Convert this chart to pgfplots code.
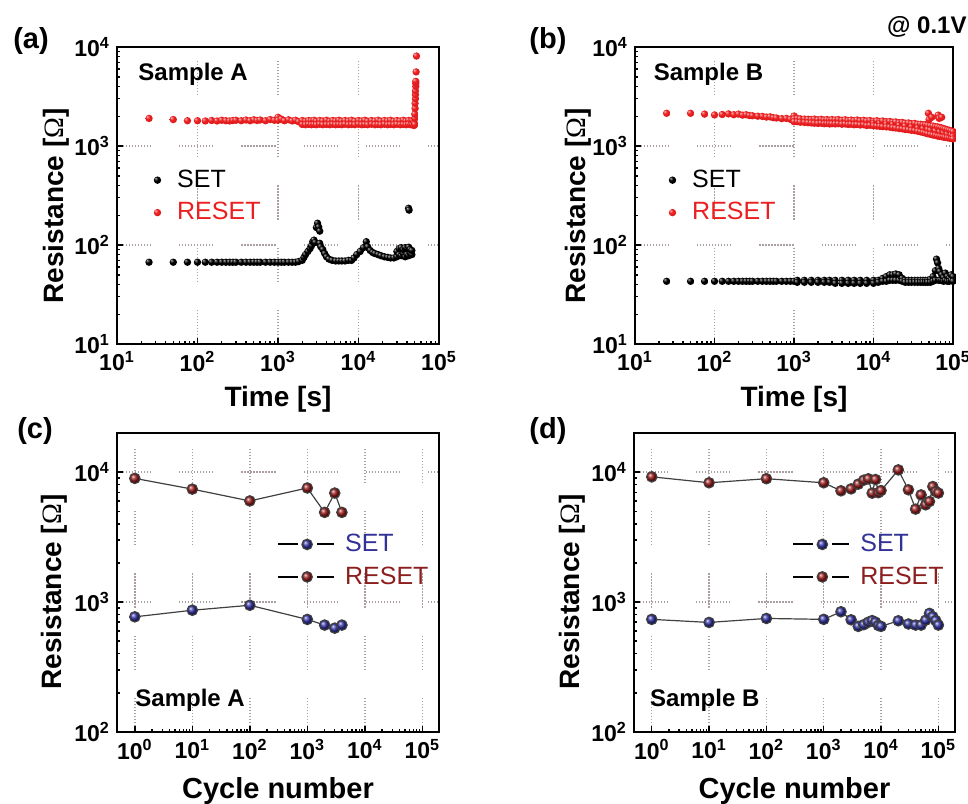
\documentclass[border=0pt]{standalone}
\usepackage{fontspec}
\setmainfont{Liberation Sans}
\newfontfamily\omegafont{Liberation Serif}
\usepackage{pgfplots}
\pgfplotsset{compat=1.18}

\definecolor{resetred}{RGB}{235,30,32}
\definecolor{setblue}{RGB}{45,45,160}
\definecolor{resetdark}{RGB}{150,22,22}
\definecolor{setbluetxt}{RGB}{50,50,150}
\definecolor{resetdarktxt}{RGB}{140,30,30}
\definecolor{gridc}{RGB}{170,158,158}

% small glossy sphere for the dense time series
\makeatletter
\pgfdeclareradialshading[tikz@ball]{sphere}{\pgfqpoint{-14bp}{14bp}}{%
  color(0bp)=(tikz@ball!25!white);
  color(6bp)=(tikz@ball!65!white);
  color(14bp)=(tikz@ball);
  color(36bp)=(tikz@ball!90!black);
  color(50bp)=(tikz@ball!72!black)}
\makeatother
\pgfdeclareplotmark{sphere}{%
  \pgfpathcircle{\pgfpointorigin}{\pgfplotmarksize}%
  \pgfshadepath{sphere}{0}%
  \pgfusepath{}}

\tikzset{gridpat/.style={dash pattern=on 0.6pt off 0.9pt on 0.6pt off 0.9pt on 0.6pt off 0.9pt on 0.6pt off 0.9pt on 0.6pt off 0.9pt on 0.6pt off 0.9pt on 0.6pt off 0.9pt on 0.6pt off 0.9pt on 0.6pt off 0.9pt on 0.6pt off 0.9pt on 0.6pt off 0.9pt on 0.6pt off 14pt}}

\pgfplotsset{
  every axis/.append style={
    scale only axis,
    anchor=north west,
    axis line style={line width=1pt},
    tick align=inside,
    xtick pos=bottom, ytick pos=left,
    major tick length=3pt, minor tick length=1.6pt,
    every tick/.style={black, line width=0.7pt},
    grid=major,
    major grid style={gridc, line width=0.7pt, gridpat},
    tick label style={font=\bfseries\fontsize{11.5}{11.5}\selectfont},
    label style={font=\bfseries\fontsize{14}{14}\selectfont},
    legend style={draw=none, fill=none, inner sep=0pt,
      font=\fontsize{12.5}{14}\selectfont, anchor=west,
      nodes={inner sep=1pt}, column sep=7pt, row sep=4pt},
    legend cell align=left,
  },
}

\begin{document}
\begin{tikzpicture}
\useasboundingbox (0,0) rectangle (484pt,-401.5pt);

% ---------------- (a) ----------------
\begin{axis}[at={(58.5pt,-23.5pt)}, width=161pt, height=148.5pt,
  xmode=log, ymode=log,
  xmin=10, xmax=1e5, ymin=10, ymax=1e4,
  xtick={10,100,1000,10000,100000},
  xticklabels={10\textsuperscript{1},10\textsuperscript{2},10\textsuperscript{3},10\textsuperscript{4},10\textsuperscript{5}},
  ytick={10,100,1000,10000},
  yticklabels={10\textsuperscript{1},10\textsuperscript{2},10\textsuperscript{3},10\textsuperscript{4}},
  xlabel={Time [s]},
  xlabel style={at={(rel axis cs:0.5,-0.212)}, anchor=base},
  ylabel={Resistance [{\omegafont\mdseries Ω}]},
  ylabel style={at={(rel axis cs:-0.19,0.465)}, anchor=center},
  legend image code/.code={\draw[only marks] plot coordinates {(0pt,0pt)};},
  legend style={at={(rel axis cs:0.113,0.497)}}]
\addplot[only marks, mark=sphere, mark size=1.85pt, mark options={ball color=black}] coordinates {
(25,67) (50,67) (75,67) (100,67) (125,67) (150,67) (175,67) (200,67) (225,67) (250,67)
(275,67) (300,67) (350,67) (400,67) (450,67) (500,67) (550,67) (600,67) (700,67) (800,67)
(900,67) (1000,67) (1100,67) (1200,67) (1350,67) (1500,67) (1650,67) (1800,68) (2000,70) (2100,75)
(2200,80) (2350,86) (2500,92) (2600,98) (2700,108) (2800,112) (2900,106) (3000,150) (3100,166) (3200,152)
(3300,138) (3300,104) (3400,96) (3600,90) (3800,82) (4000,76) (4300,72) (4700,70) (5200,69) (5700,69)
(6200,69) (6800,69) (7500,70) (8200,70) (8800,74) (9500,80) (10500,86) (11500,94) (12500,108) (13000,96)
(14000,88) (15000,84) (16000,82) (17500,80) (19000,78) (21000,76) (23000,75) (25000,74) (27500,74) (30000,76)
(30000,86) (32000,80) (32000,92) (34000,78) (34000,94) (36000,82) (36000,90) (38000,76) (38000,94) (40000,80)
(40000,92) (42000,78) (42000,95) (44000,82) (44000,90) (46000,80) (46000,88) (41900,235) (42500,225)
};
\addlegendentry{SET}
\addplot[only marks, mark=sphere, mark size=1.85pt, mark options={ball color=resetred}] coordinates {
(25,1900) (50,1850) (75,1800) (100,1800) (125,1790) (150,1810) (175,1790) (200,1820) (225,1800) (250,1790)
(275,1810) (300,1820) (350,1800) (400,1830) (450,1800) (500,1840) (550,1810) (600,1830) (700,1800) (800,1850)
(900,1820) (1000,1950) (1000,1820) (1100,1870) (1200,1800) (1350,1840) (1500,1790) (1650,1820) (1800,1760)
(2000,1810) (2000,1650) (2200,1780) (2200,1640) (2400,1810) (2400,1660) (2600,1790) (2600,1640)
(2800,1820) (2800,1650) (3000,1780) (3000,1640) (3300,1810) (3300,1660) (3600,1790) (3600,1640)
(4000,1820) (4000,1650) (4400,1780) (4400,1640) (4800,1810) (4800,1660) (5200,1790) (5200,1640)
(5700,1820) (5700,1650) (6200,1780) (6200,1640) (6800,1810) (6800,1660) (7500,1790) (7500,1640)
(8200,1820) (8200,1650) (9000,1780) (9000,1640) (10000,1810) (10000,1660) (11000,1790) (11000,1640)
(12000,1820) (12000,1650) (13000,1780) (13000,1640) (14500,1810) (14500,1660) (16000,1790) (16000,1640)
(17500,1820) (17500,1650) (19000,1780) (19000,1640) (21000,1810) (21000,1660) (23000,1790) (23000,1640)
(25000,1820) (25000,1650) (27500,1780) (27500,1640) (30000,1810) (30000,1660) (33000,1790) (33000,1640)
(36000,1820) (36000,1650) (39000,1780) (39000,1640) (42000,1810) (42000,1660) (45000,1790) (45000,1640)
(47000,1800) (47000,1640) (49000,1740) (49000,1610) (50000,1650) (50000,1900) (50000,2100) (50500,2400)
(50500,2700) (51000,3000) (51000,3300) (51000,3600) (51500,4000) (51500,4300) (51500,4500) (52000,5600) (52500,8100)
};
\addlegendentry{\textcolor{resetred}{RESET}}
\end{axis}

% ---------------- (b) ----------------
\begin{axis}[at={(317.5pt,-23.5pt)}, width=159pt, height=148.5pt,
  xmode=log, ymode=log,
  xmin=10, xmax=1e5, ymin=10, ymax=1e4,
  xtick={10,100,1000,10000,100000},
  xticklabels={10\textsuperscript{1},10\textsuperscript{2},10\textsuperscript{3},10\textsuperscript{4},10\textsuperscript{5}},
  ytick={10,100,1000,10000},
  yticklabels={10\textsuperscript{1},10\textsuperscript{2},10\textsuperscript{3},10\textsuperscript{4}},
  xlabel={Time [s]},
  xlabel style={at={(rel axis cs:0.5,-0.212)}, anchor=base},
  ylabel={Resistance [{\omegafont\mdseries Ω}]},
  ylabel style={at={(rel axis cs:-0.18,0.465)}, anchor=center},
  legend image code/.code={\draw[only marks] plot coordinates {(0pt,0pt)};},
  legend style={at={(rel axis cs:0.105,0.497)}}]
\addplot[only marks, mark=sphere, mark size=1.85pt, mark options={ball color=black}] coordinates {
(25,43) (50,43) (75,43) (100,43) (125,43) (150,43) (175,43) (200,43) (225,43) (250,43)
(275,43) (300,43) (350,43) (400,43) (450,43) (500,43) (550,43) (600,43) (700,43) (800,43)
(900,43) (1000,43) (1100,44) (1100,42) (1350,44) (1350,42) (1650,44) (1650,42) (2000,44) (2000,42)
(2400,44) (2400,42) (2800,44) (2800,42) (3300,44) (3300,41) (4000,44) (4000,41) (4800,44) (4800,41)
(5700,44) (5700,41) (6800,44) (6800,41) (8200,44) (8200,41) (10000,44) (10000,41) (11500,44) (11500,42)
(13000,46) (13000,43) (14500,48) (14500,43) (16000,50) (16000,44) (17500,50) (17500,44) (19000,51) (19000,44)
(21000,50) (21000,44) (23000,46) (23000,43) (25000,44) (25000,42) (27500,44) (27500,42) (30000,44) (30000,42)
(33000,44) (33000,42) (36000,44) (36000,42) (39000,44) (39000,42) (42000,44) (42000,42) (45000,44) (45000,42)
(48000,44) (48000,42) (52000,45) (52000,42) (56000,48) (56000,43) (60000,55) (60000,44) (62000,72) (64000,66)
(66000,58) (66000,44) (68000,54) (68000,44) (72000,50) (72000,44) (76000,47) (76000,43) (80000,52) (80000,44)
(85000,48) (85000,43) (90000,46) (90000,43) (95000,50) (95000,44) (100000,48) (100000,43)
};
\addlegendentry{SET}
\addplot[only marks, mark=sphere, mark size=1.85pt, mark options={ball color=resetred}] coordinates {
(25,2140) (50,2140) (75,2100) (100,2060) (125,2080) (150,2110) (175,2070) (200,2100) (225,2050) (250,2070)
(275,2030) (300,2020) (350,2000) (400,1990) (450,1960) (500,1970) (550,1930) (600,1920) (700,1890) (800,1900)
(900,1860) (1000,2010) (1000,1880) (1000,1760) (1100,1900) (1100,1760) (1200,1880) (1200,1740)
(1350,1870) (1350,1730) (1500,1860) (1500,1720) (1650,1850) (1650,1710) (1800,1870) (1800,1700)
(2000,1840) (2000,1690) (2200,1860) (2200,1700) (2400,1830) (2400,1680) (2600,1850) (2600,1690)
(2800,1820) (2800,1670) (3000,1850) (3000,1680) (3300,1830) (3300,1670) (3600,1850) (3600,1680)
(4000,1820) (4000,1660) (4400,1840) (4400,1670) (4800,1810) (4800,1650) (5200,1830) (5200,1660)
(5700,1810) (5700,1640) (6200,1830) (6200,1650) (6800,1800) (6800,1630) (7500,1820) (7500,1640)
(8200,1790) (8200,1610) (9000,1810) (9000,1620) (10000,1780) (10000,1700) (10000,1600) (11000,1800)
(11000,1590) (12000,1770) (12000,1690) (12000,1580) (13000,1790) (13000,1570) (14500,1760) (14500,1670)
(14500,1560) (16000,1770) (16000,1550) (17500,1740) (17500,1650) (17500,1530) (19000,1750) (19000,1520)
(21000,1720) (21000,1620) (21000,1500) (23000,1730) (23000,1490) (25000,1700) (25000,1590) (25000,1470)
(27500,1710) (27500,1460) (30000,1680) (30000,1560) (30000,1440) (33000,1690) (33000,1430)
(36000,1660) (36000,1530) (36000,1410) (39000,1660) (39000,1390) (42000,1640) (42000,1500) (42000,1370)
(45000,1640) (45000,1350) (48000,1620) (48000,1470) (48000,1330) (49000,2140) (50000,1850)
(52000,1600) (52000,1440) (52000,1310) (54000,1950) (56000,1590) (56000,1290) (60000,1570) (60000,1420)
(60000,1280) (64000,1560) (64000,1260) (65000,2050) (67000,1900) (68000,1540) (68000,1390) (68000,1250)
(72000,1950) (72000,1520) (72000,1240) (76000,1500) (76000,1360) (76000,1230) (80000,1480) (80000,1220)
(85000,1460) (85000,1320) (85000,1210) (90000,1440) (90000,1200) (95000,1420) (95000,1290) (95000,1190)
(100000,1400) (100000,1250) (100000,1180)
};
\addlegendentry{\textcolor{resetred}{RESET}}
\end{axis}

% ---------------- (c) ----------------
\begin{axis}[at={(58.5pt,-216.5pt)}, width=161pt, height=149.5pt,
  xmode=log, ymode=log,
  xmin=0.49, xmax=1.95e5, ymin=100, ymax=2e4,
  xtick={1,10,100,1000,10000,100000},
  xticklabels={10\textsuperscript{0},10\textsuperscript{1},10\textsuperscript{2},10\textsuperscript{3},10\textsuperscript{4},10\textsuperscript{5}},
  ytick={100,1000,10000},
  yticklabels={10\textsuperscript{2},10\textsuperscript{3},10\textsuperscript{4}},
  xlabel={Cycle number},
  xlabel style={at={(rel axis cs:0.5,-0.221)}, anchor=base, font=\bfseries\fontsize{14.5}{14.5}\selectfont},
  ylabel={Resistance [{\omegafont\mdseries Ω}]},
  ylabel style={at={(rel axis cs:-0.196,0.468)}, anchor=center},
  legend style={at={(rel axis cs:0.496,0.573)}, column sep=4pt},
  legend image code/.code={
    \draw[black,line width=1pt] (0pt,0pt) -- (10pt,0pt);
    \draw[black,line width=1pt] (19.5pt,0pt) -- (28pt,0pt);
    \draw[only marks] plot coordinates {(14.5pt,0pt)};
  }]
\addplot[color=black!75, line width=0.6pt, mark=ball, mark size=2.6pt, mark options={ball color=setblue}] coordinates {
(1,770) (10,865) (100,945) (1000,735) (2000,665) (3000,630) (4000,665)
};
\addlegendentry{\textcolor{setbluetxt}{SET}}
\addplot[color=black!75, line width=0.6pt, mark=ball, mark size=2.6pt, mark options={ball color=resetdark}] coordinates {
(1,8950) (10,7400) (100,6000) (1000,7550) (2000,4900) (3000,6900) (4000,4900)
};
\addlegendentry{\textcolor{resetdarktxt}{RESET}}
\end{axis}

% ---------------- (d) ----------------
\begin{axis}[at={(317pt,-216.5pt)}, width=160.5pt, height=149.5pt,
  xmode=log, ymode=log,
  xmin=0.49, xmax=1.95e5, ymin=100, ymax=2e4,
  xtick={1,10,100,1000,10000,100000},
  xticklabels={10\textsuperscript{0},10\textsuperscript{1},10\textsuperscript{2},10\textsuperscript{3},10\textsuperscript{4},10\textsuperscript{5}},
  ytick={100,1000,10000},
  yticklabels={10\textsuperscript{2},10\textsuperscript{3},10\textsuperscript{4}},
  xlabel={Cycle number},
  xlabel style={at={(rel axis cs:0.5,-0.221)}, anchor=base, font=\bfseries\fontsize{14.5}{14.5}\selectfont},
  ylabel={Resistance [{\omegafont\mdseries Ω}]},
  ylabel style={at={(rel axis cs:-0.193,0.468)}, anchor=center},
  legend style={at={(rel axis cs:0.492,0.573)}, column sep=4pt},
  legend image code/.code={
    \draw[black,line width=1pt] (0pt,0pt) -- (10pt,0pt);
    \draw[black,line width=1pt] (19.5pt,0pt) -- (28pt,0pt);
    \draw[only marks] plot coordinates {(14.5pt,0pt)};
  }]
\addplot[color=black!75, line width=0.6pt, mark=ball, mark size=2.6pt, mark options={ball color=setblue}] coordinates {
(1,736) (10,697) (100,748) (1000,736) (2000,842) (3000,730) (4000,650) (5000,670) (6000,700)
(7000,720) (8000,700) (9000,660) (10000,650) (20000,718) (30000,678) (40000,665) (50000,665)
(60000,725) (70000,818) (80000,771) (90000,720) (100000,665)
};
\addlegendentry{\textcolor{setbluetxt}{SET}}
\addplot[color=black!75, line width=0.6pt, mark=ball, mark size=2.6pt, mark options={ball color=resetdark}] coordinates {
(1,9200) (10,8280) (100,8900) (1000,8280) (2000,7180) (3000,7430) (4000,8080) (5000,8670) (6000,8880)
(7000,6890) (8000,8770) (9000,6950) (10000,7210) (20000,10400) (30000,7310) (40000,5190) (50000,6680)
(60000,5600) (70000,5940) (80000,7740) (90000,7080) (100000,6900)
};
\addlegendentry{\textcolor{resetdarktxt}{RESET}}
\end{axis}

% panel labels and annotations
\node[font=\bfseries\fontsize{14.5}{14.5}\selectfont] at (15.5pt,-20.75pt) {(a)};
\node[font=\bfseries\fontsize{14.5}{14.5}\selectfont] at (274pt,-20.75pt) {(b)};
\node[font=\bfseries\fontsize{14.5}{14.5}\selectfont] at (17.5pt,-215.5pt) {(c)};
\node[font=\bfseries\fontsize{14.5}{14.5}\selectfont] at (274pt,-215.5pt) {(d)};
\node[font=\bfseries\fontsize{12}{12}\selectfont, anchor=east, inner sep=0pt] at (483.5pt,-13.5pt) {@ 0.1V};
\node[font=\bfseries\fontsize{12}{12}\selectfont, anchor=base west, inner sep=0pt] at (69pt,-40pt) {Sample A};
\node[font=\bfseries\fontsize{12}{12}\selectfont, anchor=base west, inner sep=0pt] at (326.7pt,-40pt) {Sample B};
\node[font=\bfseries\fontsize{12}{12}\selectfont, anchor=base west, inner sep=0pt] at (67.5pt,-353.3pt) {Sample A};
\node[font=\bfseries\fontsize{12}{12}\selectfont, anchor=base west, inner sep=0pt] at (324.8pt,-353.3pt) {Sample B};
\end{tikzpicture}
\end{document}
